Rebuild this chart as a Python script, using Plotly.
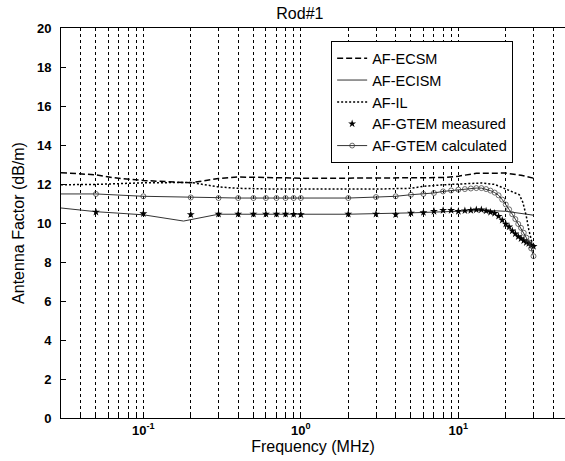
import plotly.graph_objects as go

# ---- data ----
ecsm_freq = [0.03, 0.05, 0.065, 0.1, 0.2, 0.3, 0.4, 0.6, 1, 2, 5, 8, 10, 13, 20, 25, 30]
ecsm_af = [12.58, 12.47, 12.32, 12.18, 12.06, 12.28, 12.36, 12.33, 12.3, 12.3, 12.3, 12.33, 12.4, 12.55, 12.56, 12.45, 12.3]

ecism_freq = [0.03, 0.05, 0.1, 0.18, 0.3, 0.5, 1, 2, 5, 10, 15, 20, 25, 30]
ecism_af = [10.77, 10.58, 10.42, 10.1, 10.45, 10.45, 10.45, 10.45, 10.52, 10.6, 10.65, 10.6, 10.5, 10.4]

il_freq = [0.03, 0.05, 0.1, 0.2, 0.3, 0.4, 0.6, 1, 3, 5, 6, 8, 11, 14, 17, 20, 23, 24.4, 25.7, 27, 28, 29.2, 30]
il_af = [11.96, 11.98, 12.06, 12.08, 11.85, 11.78, 11.75, 11.74, 11.74, 11.78, 11.88, 11.96, 12.02, 12.05, 11.98,
         11.75, 11.57, 11.45, 11.05, 10.35, 9.66, 9.06, 8.85]

gtem_freq = [0.05, 0.1, 0.2, 0.3, 0.4, 0.5, 0.6, 0.7, 0.8, 0.9, 1, 2, 3, 4, 5, 6, 7, 8, 9, 10,
             11, 12, 13, 14, 15, 16, 17, 18, 19, 20, 21, 22, 23, 24, 25, 26, 27, 28, 29, 30]
gtem_measured = [10.56, 10.48, 10.43, 10.46, 10.46, 10.46, 10.46, 10.46, 10.46, 10.45, 10.43, 10.46, 10.46, 10.43,
                 10.51, 10.54, 10.6, 10.65, 10.65, 10.6, 10.63, 10.65, 10.68, 10.68, 10.62, 10.55, 10.5, 10.35,
                 10.15, 9.95, 9.8, 9.6, 9.45, 9.3, 9.2, 9.1, 9.0, 8.95, 8.85, 8.8]

calc_freq = [0.03] + gtem_freq
gtem_calculated = [11.49, 11.49, 11.37, 11.31, 11.28, 11.28, 11.28, 11.28, 11.28, 11.28, 11.28, 11.28, 11.28, 11.33,
                   11.37, 11.45, 11.49, 11.54, 11.62, 11.67, 11.71, 11.74, 11.77, 11.79, 11.79, 11.74, 11.66,
                   11.56, 11.42, 11.2, 10.95, 10.7, 10.45, 10.2, 9.95, 9.75, 9.5, 9.25, 9.0, 8.7, 8.3]

x_major_ticks = [0.1, 1, 10]
x_major_text = ["10<sup>-1</sup>", "10<sup>0</sup>", "10<sup>1</sup>"]
x_minor_ticks = [0.04, 0.05, 0.06, 0.07, 0.08, 0.09, 0.2, 0.3, 0.4, 0.5, 0.6, 0.7, 0.8, 0.9,
                 2, 3, 4, 5, 6, 7, 8, 9, 20, 30, 40]
y_ticks = [0, 2, 4, 6, 8, 10, 12, 14, 16, 18, 20]

# ---- figure ----
W, H = 565, 461
LEG_FONT = "Liberation Sans, Arial, sans-serif"
TICK_FONT = "Liberation Sans Narrow, Arial Narrow, Liberation Sans, Arial, sans-serif"

fig = go.Figure()
fig.add_trace(go.Scatter(x=ecsm_freq, y=ecsm_af, mode="lines", name="AF-ECSM",
                         line=dict(color="black", width=1.5, dash="6px,3px")))
fig.add_trace(go.Scatter(x=ecism_freq, y=ecism_af, mode="lines", name="AF-ECISM",
                         line=dict(color="#333333", width=1)))
fig.add_trace(go.Scatter(x=il_freq, y=il_af, mode="lines", name="AF-IL",
                         line=dict(color="black", width=1.5, dash="2px,2px")))
fig.add_trace(go.Scatter(x=gtem_freq, y=gtem_measured, mode="markers", name="AF-GTEM measured",
                         marker=dict(symbol="star", size=6, color="black", line=dict(width=0))))
calc_sizes = [0] + [5] * (len(calc_freq) - 1)
fig.add_trace(go.Scatter(x=calc_freq, y=gtem_calculated, mode="lines+markers", name="AF-GTEM calculated",
                         line=dict(color="#333333", width=1),
                         marker=dict(symbol="circle-open", size=calc_sizes, color="#333333",
                                     line=dict(width=1, color="#333333"))))

fig.update_layout(
    width=W, height=H,
    margin=dict(l=61, r=0, t=28, b=43, autoexpand=False),
    plot_bgcolor="white", paper_bgcolor="white",
    font=dict(family=LEG_FONT, color="black"),
    title=dict(text="Rod#1", x=0.474, xref="paper", xanchor="center",
               y=1 - 13 / H, yref="container", yanchor="middle",
               font=dict(family=LEG_FONT, size=16, color="black")),
    legend=dict(x=0.536, y=0.966, xanchor="left", yanchor="top",
                bgcolor="white", bordercolor="black", borderwidth=1,
                font=dict(family=LEG_FONT, size=14.5, color="black"),
                tracegroupgap=0),
    showlegend=True,
)

fig.update_xaxes(
    type="log", range=[-1.5229, 1.6771], automargin=False,
    showline=True, linecolor="black", linewidth=1, mirror=True,
    tickmode="array", tickvals=x_major_ticks, ticktext=x_major_text,
    ticks="inside", ticklen=5, tickcolor="black",
    showgrid=True, gridcolor="black", gridwidth=1, griddash="3px,3px",
    minor=dict(tickmode="array", tickvals=x_minor_ticks, ticks="inside", ticklen=3,
               tickcolor="black", showgrid=True, gridcolor="black", gridwidth=1, griddash="3px,3px"),
    tickfont=dict(family=TICK_FONT, size=13, color="black", weight="bold"),
    title=dict(text="Frequency (MHz)", font=dict(family=LEG_FONT, size=16, color="black"), standoff=2),
    zeroline=False,
)
fig.update_yaxes(
    range=[0, 20], automargin=False, showline=True, linecolor="black", linewidth=1, mirror=False,
    tickmode="array", tickvals=y_ticks,
    ticks="inside", ticklen=5, tickcolor="black",
    showgrid=False, zeroline=False,
    tickfont=dict(family=TICK_FONT, size=13, color="black", weight="bold"),
    ticklabelstandoff=6,
    title=dict(text="Antenna Factor (dB/m)", font=dict(family=LEG_FONT, size=16, color="black"), standoff=8),
)

# remove the browser's default 8 px body margin so the figure fills the window
fig.write_html("out.html",
               config={"displayModeBar": False},
               post_script="document.body.style.margin='0';document.body.style.overflow='hidden';")
